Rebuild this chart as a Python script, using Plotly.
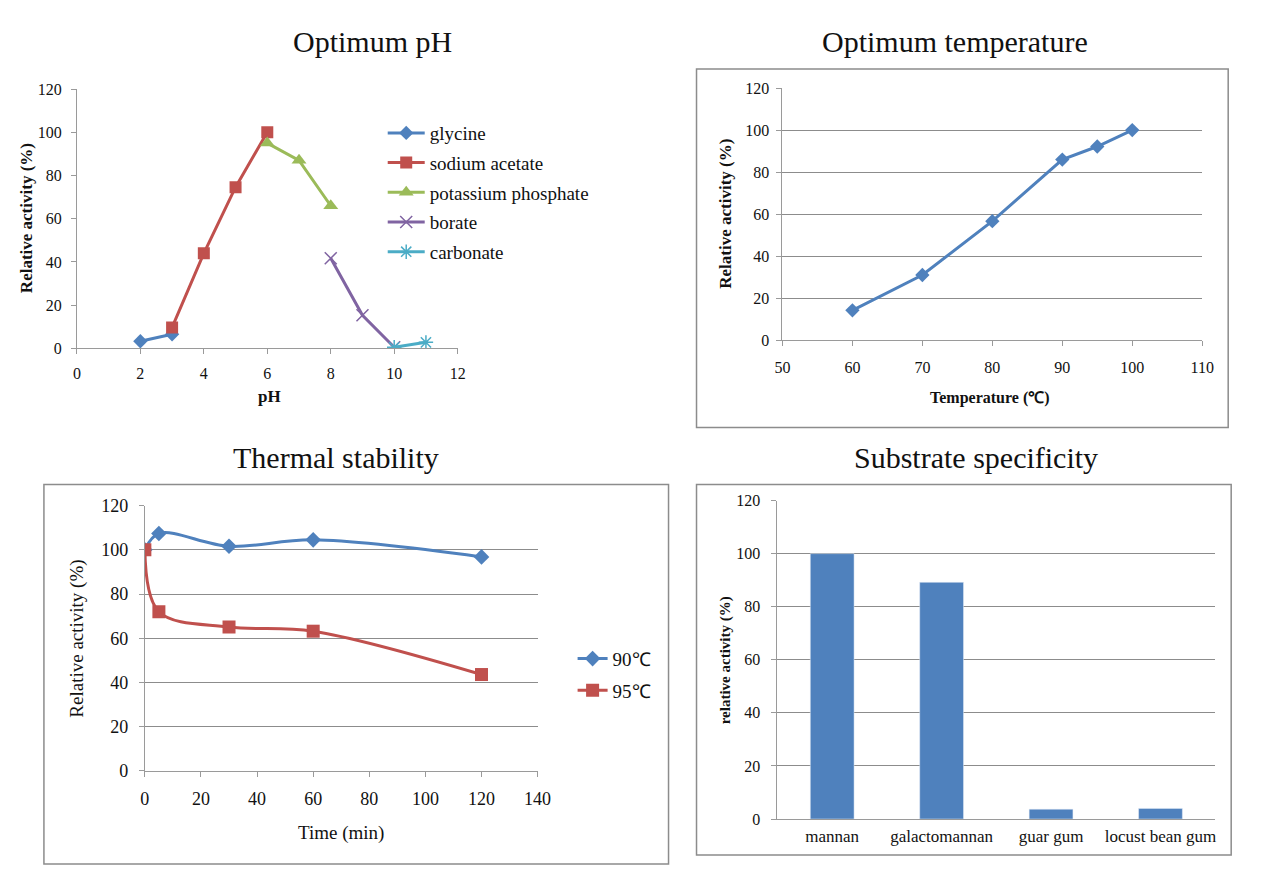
import plotly.graph_objects as go

W, H = 1264, 881
# the photographed page comes out slightly scaled and shifted; these undo it
SX, SY = 0.984, 0.976
OX, OY = 15.3, 18.5

# ---- Optimum pH ----
ph_glycine = [2, 3]
act_glycine = [3.3, 6.5]
ph_acetate = [3, 4, 5, 6]
act_acetate = [9.7, 44, 74.6, 100]
ph_phosphate = [6, 7, 8]
act_phosphate = [95, 87, 66]
ph_borate = [8, 9, 10]
act_borate = [41.7, 15.3, 0.5]
ph_carbonate = [10, 11]
act_carbonate = [0.5, 2.8]

# ---- Optimum temperature ----
temp_c = [60, 70, 80, 90, 95, 100]
act_temp = [14.3, 31.1, 56.7, 86.0, 92.2, 100]

# ---- Thermal stability ----
time_min = [0, 5, 30, 60, 120]
act_90 = [100, 107.4, 101.6, 104.5, 96.8]
act_95 = [100, 72, 65.1, 63.2, 43.6]

# ---- Substrate specificity ----
substrates = ['mannan', 'galactomannan', 'guar gum', 'locust bean gum']
act_substrate = [100, 89.2, 3.7, 4.0]

BLUE = '#4F81BD'
RED = '#C0504D'
GREEN = '#9BBB59'
PURPLE = '#8064A2'
CYAN = '#4BACC6'
GRID = '#8C8C8C'
AXIS = '#9A9A9A'
FONT = 'Liberation Serif'


def fx(px):
    # picture pixel -> paper x
    return (px / SX - OX) / W


def fy(py):
    # picture pixel -> paper y
    return 1 - (py / SY - OY) / H


fig = go.Figure()

# pH panel
fig.add_trace(go.Scatter(x=ph_glycine, y=act_glycine, name='glycine', mode='lines+markers',
                         line=dict(color=BLUE, width=3), marker=dict(symbol='diamond', size=11),
                         legendgroup='a'))
fig.add_trace(go.Scatter(x=ph_acetate, y=act_acetate, name='sodium acetate', mode='lines+markers',
                         line=dict(color=RED, width=3), marker=dict(symbol='square', size=12),
                         legendgroup='b'))
fig.add_trace(go.Scatter(x=ph_phosphate, y=act_phosphate, name='potassium phosphate', mode='lines+markers',
                         line=dict(color=GREEN, width=3), marker=dict(symbol='triangle-up', size=13),
                         legendgroup='c'))
fig.add_trace(go.Scatter(x=ph_borate, y=act_borate, name='borate', mode='lines+markers',
                         line=dict(color=PURPLE, width=3),
                         marker=dict(symbol='x-thin-open', size=12, line=dict(color=PURPLE, width=1.5)),
                         legendgroup='d'))
fig.add_trace(go.Scatter(x=ph_carbonate, y=act_carbonate, name='carbonate', mode='lines+markers',
                         line=dict(color=CYAN, width=3),
                         marker=dict(symbol='asterisk-open', size=12, line=dict(color=CYAN, width=1.5)),
                         legendgroup='e'))

# temperature panel
fig.add_trace(go.Scatter(x=temp_c, y=act_temp, mode='lines+markers', showlegend=False,
                         line=dict(color=BLUE, width=3), marker=dict(symbol='diamond', size=11),
                         xaxis='x2', yaxis='y2'))

# thermal stability panel
fig.add_trace(go.Scatter(x=time_min, y=act_90, name='90℃', mode='lines+markers', legend='legend2',
                         line=dict(color=BLUE, width=3, shape='spline'), legendgroup='f',
                         marker=dict(symbol='diamond', size=12), xaxis='x3', yaxis='y3'))
fig.add_trace(go.Scatter(x=time_min, y=act_95, name='95℃', mode='lines+markers', legend='legend2',
                         line=dict(color=RED, width=3, shape='spline'), legendgroup='g',
                         marker=dict(symbol='square', size=13), xaxis='x3', yaxis='y3'))

# substrate panel
fig.add_trace(go.Bar(x=substrates, y=act_substrate, marker_color=BLUE, showlegend=False,
                     xaxis='x4', yaxis='y4'))


def tf(size):
    return dict(family=FONT, size=size, color='#111')


common_x = dict(showline=True, linecolor=AXIS, linewidth=1, ticks='outside', ticklen=5,
                tickcolor=AXIS, showgrid=False, zeroline=False, tickfont=tf(16))
common_y = dict(showline=True, linecolor=AXIS, linewidth=1, ticks='outside', ticklen=5,
                tickcolor=AXIS, gridcolor=GRID, gridwidth=1, zeroline=False, tickfont=tf(16),
                range=[0, 120], dtick=20)

fig.update_layout(
    width=W, height=H, margin=dict(l=0, r=0, t=0, b=0),
    paper_bgcolor='white', plot_bgcolor='white',
    font=dict(family=FONT, color='#111'),
    xaxis=dict(common_x, domain=[fx(76), fx(457)], range=[0, 12], dtick=2, anchor='y',
               ticklabelstandoff=5),
    yaxis=dict(common_y, domain=[fy(348), fy(89)], showgrid=False, anchor='x',
               ticklabelstandoff=6),
    yaxis5=dict(overlaying='y', range=[0, 120], tickvals=[40, 60, 80, 100], showgrid=True,
                gridcolor=GRID, showticklabels=False, ticks='', showline=False, zeroline=False,
                anchor='x'),
    xaxis2=dict(common_x, domain=[fx(782), fx(1202)], range=[50, 110], dtick=10, anchor='y2',
                ticklabelstandoff=7),
    yaxis2=dict(common_y, domain=[fy(340), fy(88)], anchor='x2', ticklabelstandoff=4),
    xaxis3=dict(common_x, domain=[fx(144), fx(537)], range=[0, 140], dtick=20, anchor='y3',
                tickfont=tf(18), ticklabelstandoff=6),
    yaxis3=dict(common_y, domain=[fy(770), fy(505)], anchor='x3', tickfont=tf(18),
                ticklabelstandoff=7),
    xaxis4=dict(showline=True, linecolor=AXIS, ticks='', showgrid=False, anchor='y4',
                domain=[fx(777), fx(1215)], tickfont=tf(17), ticklabelstandoff=2),
    yaxis4=dict(common_y, domain=[fy(818), fy(500)], anchor='x4', tickfont=tf(16),
                ticklabelstandoff=8),
    bargap=0.6,
    legend=dict(x=fx(382), y=fy(114), xanchor='left', yanchor='top', bgcolor='white',
                font=tf(19), tracegroupgap=2, itemwidth=37),
    legend2=dict(x=fx(572), y=fy(639), xanchor='left', yanchor='top', bgcolor='rgba(0,0,0,0)',
                 font=tf(19), tracegroupgap=4, itemwidth=30),
)

# panel frames
for x0, y0, x1, y1 in [(696, 69, 1228, 427), (43, 484, 668, 863), (696, 484, 1231, 854)]:
    fig.add_shape(type='rect', xref='paper', yref='paper', x0=fx(x0), x1=fx(x1),
                  y0=fy(y1), y1=fy(y0), line=dict(color='#8C8C8C', width=1.5), layer='below')

# titles and axis titles
texts = [
    ('Optimum pH', 372, 42, 30, 0, False),
    ('Optimum temperature', 955, 42, 30, 0, False),
    ('Thermal stability', 335, 457, 30, 0, False),
    ('Substrate specificity', 976, 457, 30, 0, False),
    ('Relative activity (%)', 25, 218, 17, -90, True),
    ('pH', 269, 396, 17, 0, True),
    ('Relative activity (%)', 725, 214, 17, -90, True),
    ('Temperature (℃)', 990, 398, 16, 0, True),
    ('Relative activity (%)', 76, 638, 19, -90, False),
    ('Time (min)', 340, 832, 19, 0, False),
    ('relative activity (%)', 725, 660, 15, -90, True),
]
for txt, px, py, size, ang, bold in texts:
    fig.add_annotation(text='<b>%s</b>' % txt if bold else txt, x=fx(px), y=fy(py),
                       xref='paper', yref='paper', showarrow=False, textangle=ang,
                       xanchor='center', yanchor='middle', font=tf(size))

fig.write_html("out.html")
